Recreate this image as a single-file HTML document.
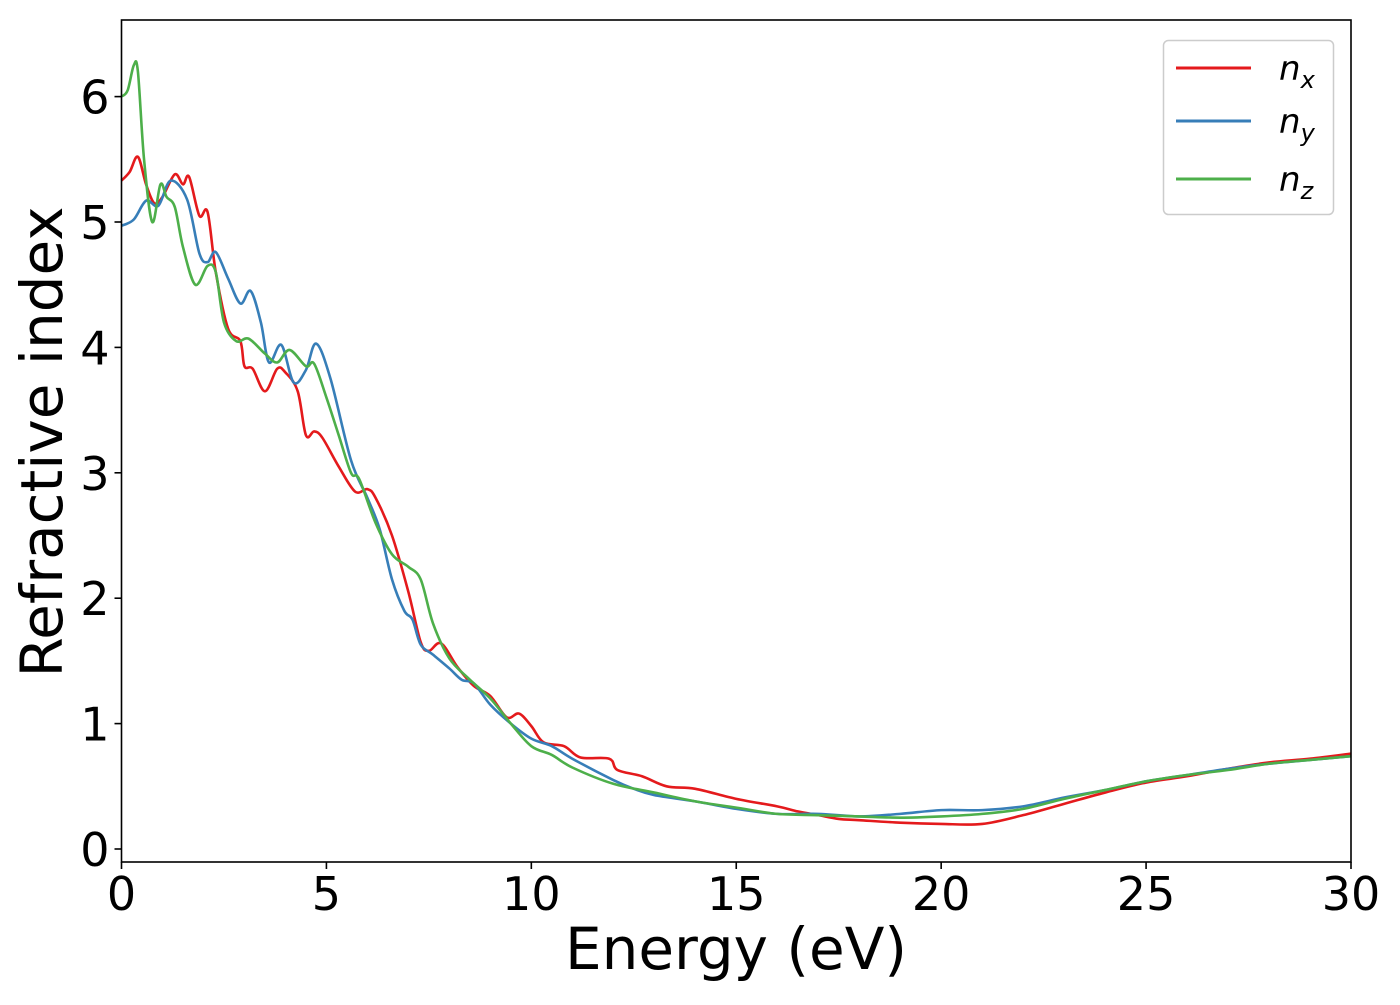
<!DOCTYPE html>
<html><head><meta charset="utf-8"><style>
html,body{margin:0;padding:0;background:#fff;}
svg text{font-family:"DejaVu Sans","Liberation Sans",sans-serif;}
</style></head><body>
<svg id="chart" width="1400" height="1000" xmlns="http://www.w3.org/2000/svg">
<rect width="1400" height="1000" fill="#fff"/>
<g id="series"></g>
<g id="axes"></g>
<text x="736" y="969" font-size="58" text-anchor="middle">Energy (eV)</text>
<text transform="translate(62,442) rotate(-90)" font-size="58" text-anchor="middle">Refractive index</text>
<g>
<rect x="1163.5" y="40.5" width="170" height="174" rx="5" fill="#fff" stroke="#ccc" stroke-width="1.5"/>
<line x1="1176" y1="68" x2="1251" y2="68" stroke="#e41a1c" stroke-width="3"/>
<text x="1279" y="80" font-size="34" font-style="italic">n<tspan font-size="24" dy="8">x</tspan></text>
<line x1="1176" y1="121" x2="1251" y2="121" stroke="#377eb8" stroke-width="3"/>
<text x="1279" y="133" font-size="34" font-style="italic">n<tspan font-size="24" dy="8">y</tspan></text>
<line x1="1176" y1="179" x2="1251" y2="179" stroke="#4daf4a" stroke-width="3"/>
<text x="1279" y="191" font-size="34" font-style="italic">n<tspan font-size="24" dy="8">z</tspan></text>
</g>
</svg>
<script>
const xTicks=[0,5,10,15,20,25,30];
const yTicks=[0,1,2,3,4,5,6];
const nxE=[0,0.2,0.4,0.6,0.8,1.0,1.3,1.5,1.65,1.9,2.1,2.3,2.6,2.9,3.0,3.2,3.5,3.8,4.0,4.3,4.5,4.7,4.9,5.3,5.7,6.0,6.2,6.6,7.0,7.3,7.5,7.8,8.2,8.6,9.0,9.4,9.7,10,10.3,10.8,11.2,11.9,12.1,12.7,13.3,14,15,16,16.5,17,17.5,18,19,20,21,22,23,24,25,26,27,28,29,30];
const nxV=[5.33,5.4,5.52,5.3,5.15,5.2,5.38,5.3,5.36,5.05,5.08,4.6,4.15,4.05,3.85,3.83,3.65,3.83,3.8,3.65,3.3,3.33,3.28,3.05,2.85,2.87,2.8,2.5,2.05,1.65,1.58,1.64,1.45,1.3,1.22,1.05,1.08,0.98,0.85,0.82,0.73,0.72,0.63,0.58,0.5,0.48,0.4,0.34,0.3,0.27,0.24,0.23,0.21,0.2,0.2,0.27,0.36,0.45,0.53,0.58,0.64,0.69,0.72,0.76];
const nyE=[0,0.3,0.6,0.9,1.2,1.6,1.9,2.1,2.3,2.6,2.9,3.15,3.4,3.6,3.9,4.2,4.5,4.75,5.1,5.6,6.0,6.3,6.6,6.9,7.1,7.3,7.6,8.0,8.3,8.6,9,9.5,10,10.5,11,12,12.5,13,14,15,16,17,18,19,20,21,22,23,24,25,26,27,28,29,30];
const nyV=[4.97,5.02,5.17,5.13,5.33,5.18,4.75,4.68,4.76,4.55,4.35,4.45,4.2,3.88,4.02,3.72,3.82,4.03,3.75,3.1,2.8,2.55,2.15,1.9,1.83,1.63,1.55,1.44,1.35,1.32,1.15,1.0,0.88,0.82,0.72,0.55,0.48,0.43,0.38,0.32,0.28,0.28,0.26,0.28,0.31,0.31,0.34,0.41,0.47,0.54,0.59,0.64,0.68,0.71,0.74];
const nzE=[0,0.15,0.3,0.4,0.55,0.75,0.95,1.1,1.3,1.5,1.8,2.1,2.3,2.5,2.8,3.1,3.5,3.8,4.1,4.5,4.7,5.0,5.3,5.6,5.8,6.2,6.6,7.0,7.3,7.6,8.0,8.5,9,9.5,10,10.5,11,12,13,14,15,16,17,18,19,20,21,22,23,24,25,26,27,28,29,30];
const nzV=[6.0,6.05,6.25,6.2,5.5,5.0,5.3,5.2,5.12,4.8,4.5,4.65,4.6,4.2,4.05,4.07,3.95,3.88,3.98,3.85,3.87,3.6,3.3,3.0,2.95,2.6,2.35,2.25,2.15,1.8,1.52,1.35,1.2,1.0,0.82,0.75,0.65,0.52,0.45,0.38,0.33,0.28,0.27,0.26,0.25,0.26,0.28,0.32,0.4,0.47,0.54,0.59,0.63,0.68,0.71,0.74];

const L=121.5,R=1351,T=20,B=862;
const xs=v=>L+(v-0)/30*(R-L);
const ys=v=>849-v*125.4;
const NS='http://www.w3.org/2000/svg';
function mk(tag,attrs,parent){const e=document.createElementNS(NS,tag);for(const k in attrs)e.setAttribute(k,attrs[k]);parent.appendChild(e);return e;}
const sg=document.getElementById('series'), ag=document.getElementById('axes');
function smooth(E,V){const p=E.map((e,i)=>[xs(e),ys(V[i])]);let d='M'+p[0][0]+','+p[0][1];
for(let i=0;i<p.length-1;i++){const p0=p[i-1]||p[i],p1=p[i],p2=p[i+1],p3=p[i+2]||p2;
d+=` C${p1[0]+(p2[0]-p0[0])/6},${p1[1]+(p2[1]-p0[1])/6} ${p2[0]-(p3[0]-p1[0])/6},${p2[1]-(p3[1]-p1[1])/6} ${p2[0]},${p2[1]}`;}return d;}
[[nxE,nxV,'#e41a1c','nx'],[nyE,nyV,'#377eb8','ny'],[nzE,nzV,'#4daf4a','nz']].forEach(s=>{
const p=mk('path',{d:smooth(s[0],s[1]),fill:'none',stroke:s[2],'stroke-width':2.6,'stroke-linejoin':'round'},sg);


});
const f=mk('rect',{x:L,y:T,width:R-L,height:B-T,fill:'none',stroke:'#000','stroke-width':1.6},ag);


xTicks.forEach(t=>{const x=xs(t);
const l=mk('line',{x1:x,x2:x,y1:B,y2:B+7,stroke:'#000','stroke-width':1.6},ag);


const tx=mk('text',{x:x,y:B+48,'font-size':46,'text-anchor':'middle'},ag);tx.textContent=t;

});
yTicks.forEach(t=>{const y=ys(t);
const l=mk('line',{x1:L-7,x2:L,y1:y,y2:y,stroke:'#000','stroke-width':1.6},ag);


const tx=mk('text',{x:L-12,y:y+17,'font-size':46,'text-anchor':'end'},ag);tx.textContent=t;

});
</script>
</body></html>
